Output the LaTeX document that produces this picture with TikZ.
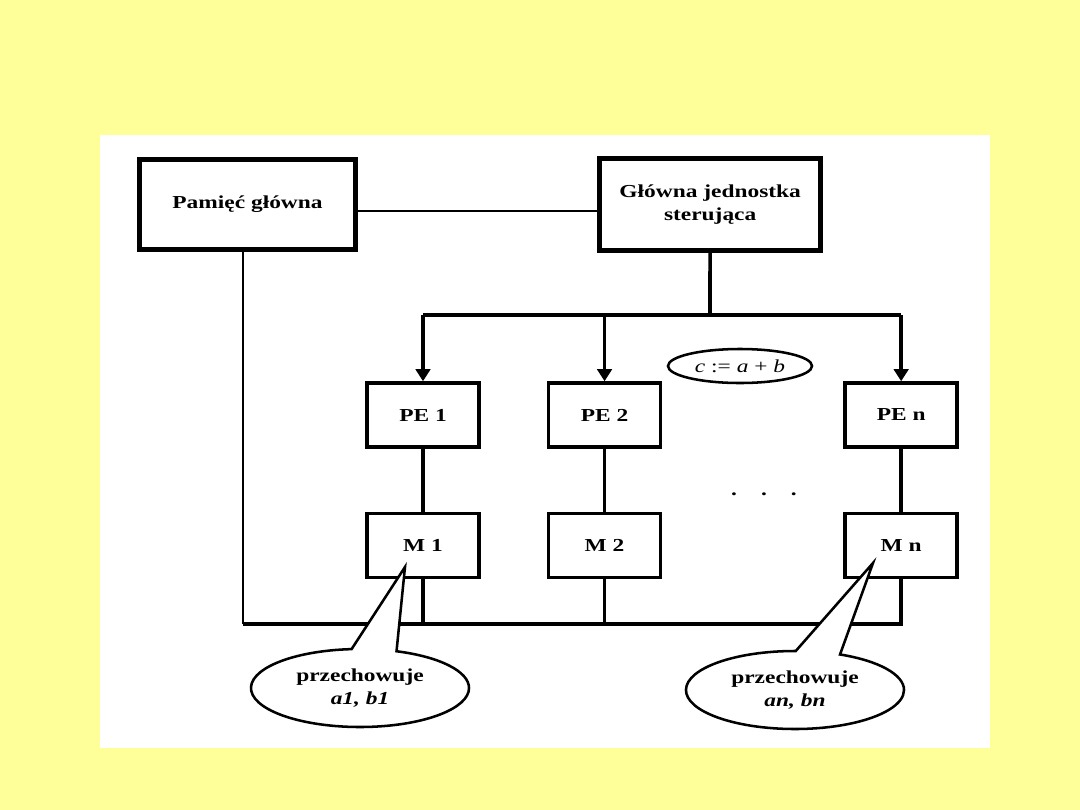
\documentclass[tikz,border=0pt]{standalone}
\usepackage{fontspec}
\setmainfont{Liberation Serif}[FakeStretch=1.28]
\usepackage{xcolor}
\definecolor{slide}{HTML}{FFFF99}
\definecolor{ink}{HTML}{000000}
\usepackage{tikz}
\usetikzlibrary{arrows.meta,positioning,calc,shapes.geometric,shapes.callouts}
\tikzset{
  every picture/.style={font=\fontsize{13}{16}\selectfont\bfseries, line width=1pt},
  mainbox/.style={draw=ink, line width=3.6pt, fill=white, align=center, inner sep=2pt, minimum width=#1},
  mainbox/.default=5.4cm,
  unitbox/.style={draw=ink, line width=2.5pt, fill=white, align=center, minimum width=2.8cm, minimum height=1.6cm},
  wire/.style={draw=ink, line width=1.1pt},
  bus/.style={draw=ink, line width=2.6pt},
  arrow/.style={bus, -{Triangle[width=0.36cm, length=0.3cm]}},
  formula/.style={ellipse, draw=ink, line width=1.8pt, fill=white, minimum width=3.6cm, minimum height=0.85cm, inner sep=0pt, font=\fontsize{13}{16}\selectfont\mdseries},
  bubble/.style={ellipse callout, draw=ink, line width=1.8pt, fill=white, align=center, minimum width=5.45cm, minimum height=1.95cm, callout pointer arc=24},
}
\begin{document}
\begin{tikzpicture}[x=0.025cm, y=-0.025cm]
  % slide and sheet
  \fill[slide] (0,0) rectangle (1080,810);
  \fill[white] (100,135) rectangle (990,748);
  \node[mainbox, minimum height=2.25cm] (mem) at (247.5,204.5) {Pamięć główna};
  \node[mainbox=5.525cm, minimum height=2.3cm, right=5.975cm of mem] (ctrl) {Główna jednostka\\sterująca};
  \node[unitbox] (pe1) at (423,415) {PE 1};
  \node[unitbox, right=1.65cm of pe1] (pe2) {PE 2};
  \node[unitbox, right=4.525cm of pe2] (pen) {PE n};
  \node[unitbox, below=1.575cm of pe1] (m1) {M 1};
  \node[unitbox, below=1.575cm of pe2] (m2) {M 2};
  \node[unitbox, below=1.575cm of pen] (mn) {M n};
  \node[formula] (op) at (740,366) {\textit{c} := \textit{a} + \textit{b}};
  \node (dots) at (764,494) {.\hspace{0.6cm}.\hspace{0.6cm}.};
  % control and data paths
  \coordinate (fork) at (710,315);
  \coordinate (bus) at (0,624);
  \draw[wire] ([yshift=-0.16cm]mem.east) -- ([yshift=-0.16cm]mem.east -| ctrl.west);
  \draw[bus] (ctrl) -- (fork);
  \draw[bus] (pe1.north |- fork) -- (pen.north |- fork);
  \foreach \p in {pe1,pe2,pen} \draw[arrow] (\p.north |- fork) -- (\p);
  \foreach \i in {1,2,n} \draw[bus] (pe\i) -- (m\i);
  \draw[wire] ([xshift=-0.11cm]mem.south) -- ([xshift=-0.11cm]mem.south |- bus);
  \draw[bus] (mn) |- ([xshift=-0.11cm]mem.south |- bus);
  \foreach \i in {1,2} \draw[bus] (m\i) -- (m\i |- bus);
  % notes
  \node[bubble, callout absolute pointer={(405,567)}] (keep1) at (360,688) {przechowuje\\\textit{a1, b1}};
  \node[bubble, callout absolute pointer={(873,563)}] (keepn) at (795,690) {przechowuje\\\textit{an, bn}};
\end{tikzpicture}
\end{document}
